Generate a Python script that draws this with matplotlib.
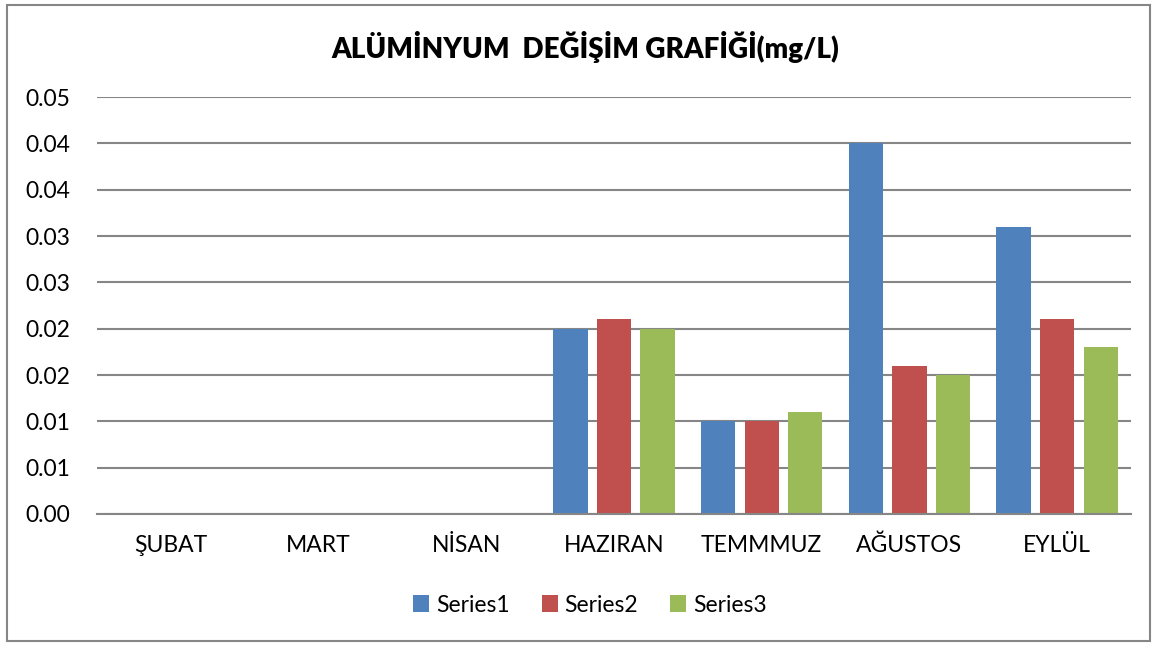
import numpy as np
import matplotlib.pyplot as plt
from matplotlib.patches import Rectangle

plt.rcParams['font.family'] = ['Lato', 'DejaVu Sans']

months = ["ŞUBAT", "MART", "NİSAN", "HAZIRAN", "TEMMMUZ", "AĞUSTOS", "EYLÜL"]
series1 = [0, 0, 0, 0.020, 0.010, 0.040, 0.031]
series2 = [0, 0, 0, 0.021, 0.010, 0.016, 0.021]
series3 = [0, 0, 0, 0.020, 0.011, 0.015, 0.018]
yticks = [0, 0.005, 0.010, 0.015, 0.020, 0.025, 0.030, 0.035, 0.040, 0.045]
ytick_labels = ["0.00", "0.01", "0.01", "0.02", "0.02", "0.03", "0.03", "0.04", "0.04", "0.05"]

colors = ["#4F81BD", "#C0504D", "#9BBB59"]

fig = plt.figure(figsize=(11.55, 6.46), dpi=100)
# outer chart border
fig.patches.append(Rectangle((7 / 1155, 5 / 646), 1143 / 1155, 636 / 646,
                             transform=fig.transFigure, fill=False,
                             edgecolor="#868686", linewidth=1.5))

ax = fig.add_axes([97 / 1155, 132 / 646, 1034 / 1155, 417 / 646])
x = np.arange(len(months))
w = 0.232
step = 0.295
for i, (vals, name) in enumerate(zip([series1, series2, series3], ["Series1", "Series2", "Series3"])):
    ax.bar(x + (i - 1) * step, vals, width=w, color=colors[i], label=name, zorder=3)

ax.set_xlim(-0.5, len(months) - 0.5)
ax.set_ylim(0, 0.045)
ax.set_yticks(yticks)
ax.set_yticklabels(ytick_labels)
ax.set_xticks(x)
ax.set_xticklabels(months)
ax.grid(axis="y", color="#868686", linewidth=1.5, zorder=0)
ax.tick_params(axis="both", length=0, labelsize=16.5, colors="black")
ax.tick_params(axis="y", pad=19)
ax.tick_params(axis="x", pad=15)
for s in ["top", "right", "left"]:
    ax.spines[s].set_visible(False)
ax.spines["bottom"].set_color("#868686")
ax.spines["bottom"].set_linewidth(1.5)
ax.spines["bottom"].set_zorder(4)

fig.text(585 / 1155, 1 - 47 / 646, "ALÜMİNYUM  DEĞİŞİM GRAFİĞİ(mg/L)",
         ha="center", va="center", fontsize=20, fontweight="heavy")

fig.legend(loc="center", bbox_to_anchor=(590 / 1155, 1 - 605 / 646), ncol=3,
           frameon=False, fontsize=16.5, handlelength=0.7, handleheight=0.7,
           handletextpad=0.3, columnspacing=1.4)

fig.savefig("out.png", dpi=100)
